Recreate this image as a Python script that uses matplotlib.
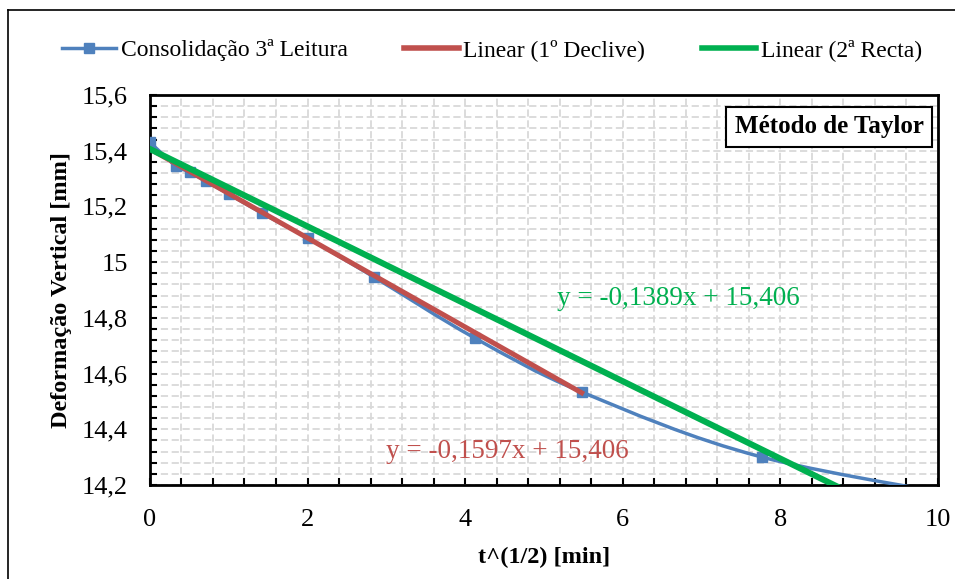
import numpy as np
import matplotlib
matplotlib.use('Agg')
import matplotlib.pyplot as plt
from matplotlib.path import Path
from matplotlib.patches import PathPatch
from matplotlib.lines import Line2D
from matplotlib.ticker import MultipleLocator, FuncFormatter

# consolidation readings, x = sqrt(t) in min^0.5
t_sqrt = [0.0, 0.33, 0.51, 0.71, 1.0, 1.42, 2.0, 2.84, 4.12, 5.48, 7.77, 10.95]
deform = [15.430, 15.345, 15.324, 15.290, 15.245, 15.176, 15.087, 14.947, 14.728, 14.534, 14.300, 14.130]

slope1, icpt1 = -0.1597, 15.406   # 1º declive
slope2, icpt2 = -0.1389, 15.406   # 2ª recta
x_fit1 = [0.0, 5.48]
x_fit2 = [0.0, 10.0]

blue = '#4F81BD'
red = '#C0504D'
green = '#00B050'

plt.rcParams['font.family'] = ['Liberation Serif', 'DejaVu Serif']


def smooth_path(xs, ys, tension=1/6):
    # Excel-like smoothed line: cubic bezier through the points
    pts = np.column_stack([xs, ys])
    verts = [pts[0]]
    codes = [Path.MOVETO]
    n = len(pts)
    for i in range(n - 1):
        p0 = pts[i - 1] if i > 0 else pts[i]
        p1 = pts[i]
        p2 = pts[i + 1]
        p3 = pts[i + 2] if i + 2 < n else pts[i + 1]
        c1 = p1 + (p2 - p0) * tension
        c2 = p2 - (p3 - p1) * tension
        verts += [c1, c2, p2]
        codes += [Path.CURVE4] * 3
    return Path(verts, codes)


fig = plt.figure(figsize=(9.55, 5.79), dpi=100)
ax = fig.add_axes([0.157, 0.1624, 0.825, 0.6736])

# smoothed series + markers
patch = PathPatch(smooth_path(t_sqrt, deform), facecolor='none', edgecolor=blue,
                  linewidth=2.5, zorder=3)
ax.add_patch(patch)
ax.plot(t_sqrt, deform, linestyle='none', marker='s', markersize=7,
        color=blue, zorder=3)

xf1 = np.array(x_fit1)
xf2 = np.array(x_fit2)
ax.plot(xf1, slope1 * xf1 + icpt1, color=red, linewidth=3.6, zorder=4)
ax.plot(xf2, slope2 * xf2 + icpt2, color=green, linewidth=4.4, zorder=4)

ax.set_xlim(0, 10)
ax.set_ylim(14.2, 15.6)
ax.xaxis.set_major_locator(MultipleLocator(2))
ax.xaxis.set_minor_locator(MultipleLocator(0.4))
ax.yaxis.set_major_locator(MultipleLocator(0.2))
ax.yaxis.set_minor_locator(MultipleLocator(0.04))
ax.yaxis.set_major_formatter(FuncFormatter(lambda v, p: f'{v:.1f}'.replace('.0', '').replace('.', ',')))
ax.grid(True, which='both', color='#D9D9D9', linestyle=(0, (4, 2)), linewidth=1.3)
ax.set_axisbelow(True)
ax.tick_params(which='both', direction='in', length=5, width=1.5, labelsize=19)
ax.tick_params(axis='x', pad=17)
ax.tick_params(axis='y', pad=16)
for s in ax.spines.values():
    s.set_linewidth(2)

ax.set_xlabel('t^(1/2) [min]', fontsize=17.5, fontweight='bold', labelpad=12)
ax.set_ylabel('Deformação Vertical [mm]', fontsize=17.5, fontweight='bold', labelpad=7)

ax.text(5.17, 14.87, 'y = -0,1389x + 15,406', color=green, fontsize=19.5,
        va='center', ha='left')
ax.text(3.0, 14.32, 'y = -0,1597x + 15,406', color=red, fontsize=19.5,
        va='center', ha='left')
ax.text(0.982, 0.918, 'Método de Taylor', transform=ax.transAxes, ha='right',
        va='center', fontsize=18, fontweight='bold', zorder=6,
        bbox=dict(boxstyle='square,pad=0.35', facecolor='white', edgecolor='black',
                  linewidth=1.5))

handles = [Line2D([], [], color=blue, linewidth=2.5, marker='s', markersize=7),
           Line2D([], [], color=red, linewidth=4),
           Line2D([], [], color=green, linewidth=4)]
labels = ['Consolidação 3ª Leitura', 'Linear (1º Declive)', 'Linear (2ª Recta)']
fig.legend(handles, labels, loc='center', bbox_to_anchor=(0.515, 0.913), ncol=3,
           frameon=False, fontsize=17, handlelength=2.3, handletextpad=0.2,
           columnspacing=2.4)

# outer chart frame
fig.add_artist(Line2D([0.0084, 0.0084], [0, 0.9827], transform=fig.transFigure,
                      color='black', linewidth=1.2))
fig.add_artist(Line2D([0.0084, 1], [0.9827, 0.9827], transform=fig.transFigure,
                      color='black', linewidth=1.2))

fig.savefig('out.png', dpi=100)
